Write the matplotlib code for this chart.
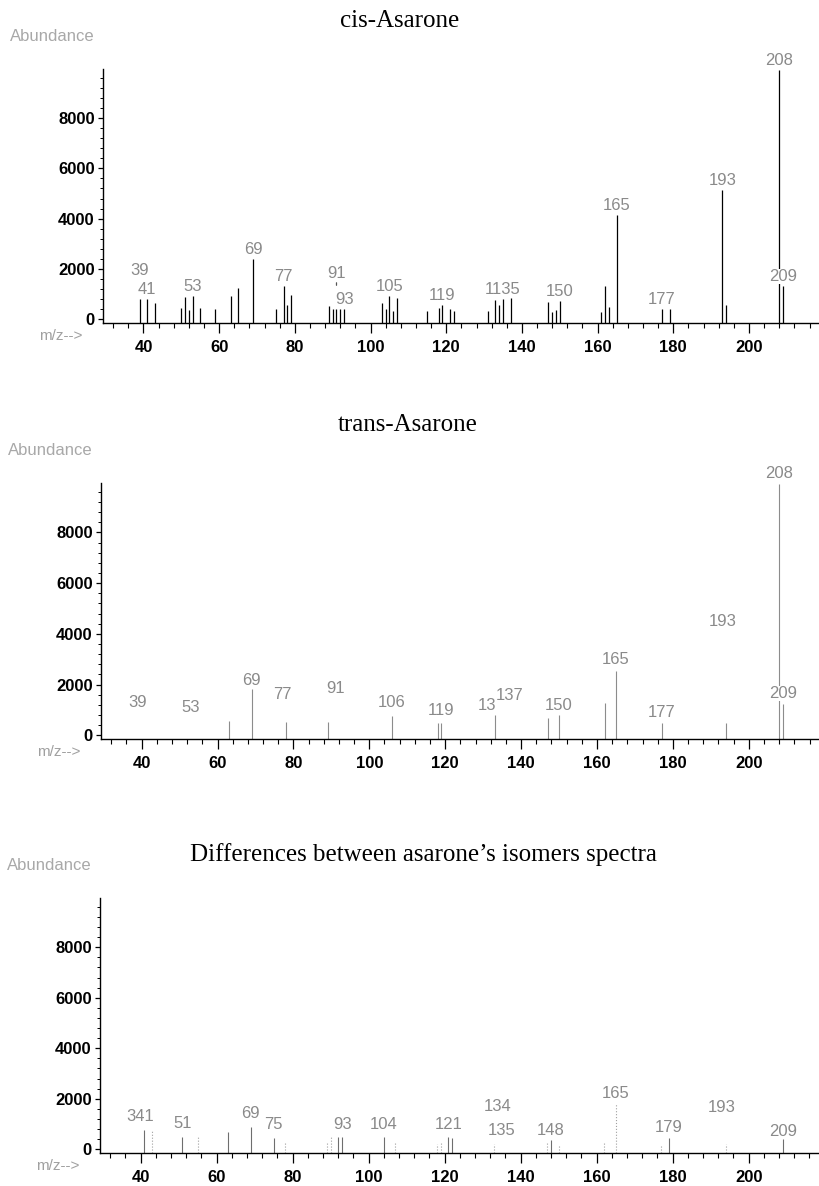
import matplotlib
matplotlib.use("Agg")
import matplotlib.pyplot as plt
from matplotlib.ticker import MultipleLocator

# ---- cis-Asarone spectrum ----
cis_mz = [39, 41, 43, 50, 51, 52, 53, 55, 59, 63, 65, 69, 75, 77, 78, 79,
          89, 90, 91, 92, 93, 103, 104, 105, 106, 107, 115, 118, 119, 121, 122,
          131, 133, 134, 135, 137, 147, 148, 149, 150, 161, 162, 163, 165,
          177, 179, 193, 194, 208, 209]
cis_int = [800, 790, 640, 450, 900, 380, 920, 450, 420, 940, 1230, 2410, 400, 1340, 580, 950,
           540, 410, 410, 410, 410, 640, 410, 940, 320, 840, 320, 450, 580, 400, 320,
           320, 770, 580, 790, 860, 690, 270, 360, 730, 270, 1340, 500, 4160,
           400, 400, 5140, 560, 9900, 1340]
# peak labels as printed (133 and 135 run together into "1135")
cis_lbl_txt = ["39", "41", "53", "69", "77", "91", "93", "105", "119", "1135", "150",
               "165", "177", "193", "208", "209"]
cis_lbl_mz = [39, 41, 53, 69, 77, 91, 93, 105, 119, 135, 150, 165, 177, 193, 208, 209]
cis_lbl_int = [1550, 790, 920, 2410, 1340, 1450, 410, 940, 580, 790, 730, 4160, 400, 5140, 9900, 1340]

# ---- trans-Asarone spectrum (lines that printed) ----
trans_mz = [63, 69, 78, 89, 106, 118, 119, 133, 147, 150, 162, 165, 177, 194, 208, 209]
trans_int = [547, 1830, 530, 530, 760, 470, 470, 810, 680, 790, 1290, 2520, 470, 470, 9900, 1250]
trans_lbl_txt = ["39", "53", "69", "77", "91", "106", "119", "13", "137", "150", "165",
                 "177", "193", "208", "209"]
trans_lbl_mz = [39, 53, 69, 77, 91, 106, 119, 131, 137, 150, 165, 177, 193, 208, 209]
trans_lbl_int = [920, 720, 1800, 1250, 1450, 920, 600, 800, 1200, 800, 2600, 520, 4120, 9950, 1280]

# ---- differences between the two spectra ----
diff_mz = [41, 51, 63, 69, 75, 92, 93, 104, 121, 122, 148, 179, 209]
diff_int = [780, 490, 680, 880, 450, 490, 490, 480, 480, 430, 350, 450, 410]
diff_faint_mz = [43, 55, 78, 89, 90, 107, 118, 119, 133, 147, 150, 162, 165, 177, 194]
diff_faint_int = [720, 520, 250, 280, 490, 290, 210, 260, 190, 250, 120, 290, 1780, 120, 190]
diff_lbl_txt = ["341", "51", "69", "75", "93", "104", "121", "134", "135", "148", "165",
                "179", "193", "209"]
diff_lbl_mz = [40, 51, 69, 75, 93, 104, 121, 134, 135, 148, 165, 179, 193, 209]
diff_lbl_int = [900, 650, 1030, 590, 590, 610, 600, 1300, 370, 370, 1840, 470, 1280, 310]

titles = ["cis-Asarone", "trans-Asarone", "Differences between asarone\u2019s isomers spectra"]

W, H = 819, 1186
fig = plt.figure(figsize=(W / 100, H / 100), dpi=100)

SANS = "Liberation Sans"
LBL_GRAY = "#8a8a8a"


def make_axes(left, top, bottom):
    ax = fig.add_axes([left / W, 1 - bottom / H, 1 - left / W, (bottom - top) / H])
    ax.set_xlim(29.3, 218.5)
    ax.set_ylim(-150, 9950)
    for s in ["top", "right"]:
        ax.spines[s].set_visible(False)
    ax.spines["left"].set_linewidth(1.0)
    ax.spines["bottom"].set_linewidth(1.0)
    ax.xaxis.set_major_locator(MultipleLocator(20))
    ax.xaxis.set_minor_locator(MultipleLocator(4))
    ax.yaxis.set_major_locator(MultipleLocator(2000))
    ax.yaxis.set_minor_locator(MultipleLocator(400))
    ax.tick_params(axis="x", which="major", length=7.2, width=0.9, pad=5)
    ax.tick_params(axis="x", which="minor", length=3.6, width=0.8)
    ax.tick_params(axis="y", which="major", length=3.5, width=0.9, pad=2.5)
    ax.tick_params(axis="y", which="minor", length=2, width=0.7)
    for lab in ax.get_xticklabels() + ax.get_yticklabels():
        lab.set_fontfamily(SANS)
        lab.set_fontweight("bold")
        lab.set_fontsize(12)
    ax.annotate("Abundance", xy=(0, 1), xycoords="axes fraction",
                xytext=(-67, 20), textcoords="offset points",
                ha="left", va="baseline", family=SANS, fontsize=12, color="#a8a8a8")
    ax.annotate("m/z-->", xy=(0, 0), xycoords="axes fraction",
                xytext=(-46, -12.5), textcoords="offset points",
                ha="left", va="baseline", family=SANS, fontsize=11, color="#a0a0a0")
    return ax


def add_labels(ax, texts, mzs, ints):
    for t, m, h in zip(texts, mzs, ints):
        ax.annotate(t, xy=(m, h), xytext=(0, 3.6), textcoords="offset points",
                    ha="center", va="baseline", family=SANS, fontsize=12,
                    color=LBL_GRAY, zorder=4,
                    bbox=dict(facecolor="white", edgecolor="none", pad=0))


# panel 1: cis
ax1 = make_axes(103, 69, 323)
ax1.vlines(cis_mz, -150, cis_int, color="black", lw=0.9)
add_labels(ax1, cis_lbl_txt, cis_lbl_mz, cis_lbl_int)
# small leader mark under the raised 91 label
ax1.annotate("", xy=(91, cis_int[cis_mz.index(91)]), xytext=(91, cis_lbl_int[cis_lbl_mz.index(91)]),
             arrowprops=dict(arrowstyle="-", color="#555555", lw=0.9, shrinkA=0, shrinkB=17))

# panel 2: trans
ax2 = make_axes(101, 483, 739)
ax2.vlines(trans_mz, -150, trans_int, color="#8c8c8c", lw=0.8)
add_labels(ax2, trans_lbl_txt, trans_lbl_mz, trans_lbl_int)

# panel 3: differences
ax3 = make_axes(100, 898, 1153)
ax3.vlines(diff_mz, -150, diff_int, color="#6e6e6e", lw=0.8)
ax3.vlines(diff_faint_mz, -150, diff_faint_int, color="#a0a0a0", lw=0.8, linestyles=":")
add_labels(ax3, diff_lbl_txt, diff_lbl_mz, diff_lbl_int)

# titles
for (x, y), t in zip([(400, 27), (408, 431), (423, 861)], titles):
    fig.text(x / W, 1 - y / H, t, ha="center", va="baseline",
             family="Liberation Serif", fontsize=18, color="black")

fig.savefig("out.png", dpi=100)
